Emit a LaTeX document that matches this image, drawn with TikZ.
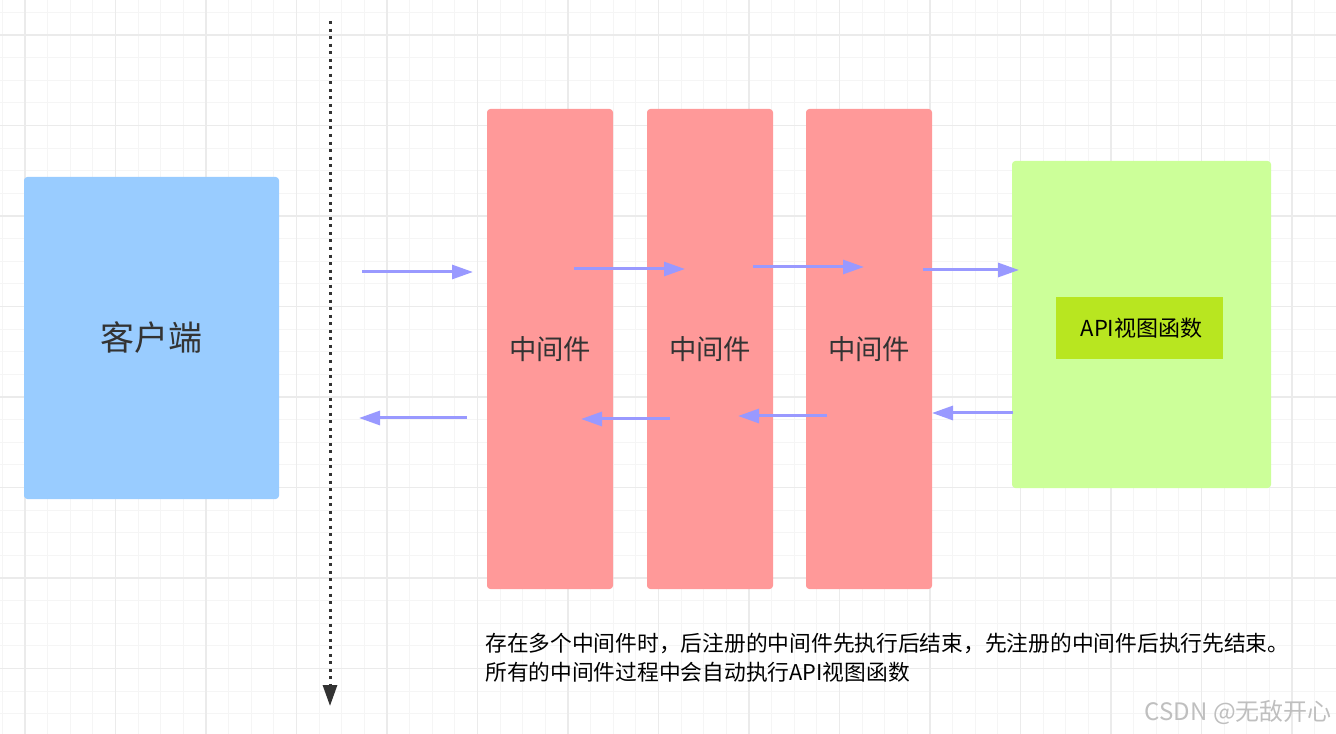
\documentclass[tikz,border=0pt]{standalone}
\usepackage{fontspec}
\setmainfont{Noto Sans CJK SC}
\usetikzlibrary{arrows.meta}

\definecolor{gridmin}{HTML}{F5F5F5}
\definecolor{gridmaj}{HTML}{EBEBEB}
\definecolor{clientblue}{HTML}{99CCFF}
\definecolor{mwred}{HTML}{FF9999}
\definecolor{viewgreen}{HTML}{CCFF99}
\definecolor{apigreen}{HTML}{B8E620}
\definecolor{flow}{HTML}{9999FF}
\definecolor{ink}{HTML}{333333}

\begin{document}
\begin{tikzpicture}[
  x=0.75pt, y=-0.75pt,
  gline/.style={gridmin, line width=0.75pt},
  gmaj/.style={gridmaj, line width=1pt},
  box/.style={rounded corners=2.5pt, inner sep=0pt},
  mware/.style={box, fill=mwred, minimum width=94.5pt, minimum height=360pt,
    text=ink, font=\fontsize{20.5pt}{24pt}\selectfont},
  flowarr/.style={flow, line width=2.25pt, -{Triangle[length=15.75pt, width=10.5pt]}},
]

\useasboundingbox (0,0) rectangle (1336,734);
\fill [white] (0,0) rectangle (1336,734);

\foreach \i in {0,...,59}
  \draw [gline] (2.4+22.625*\i,0) -- (2.4+22.625*\i,734);
\foreach \i in {0,...,32}
  \draw [gline] (0,12.4+22.625*\i) -- (1336,12.4+22.625*\i);
\foreach \k in {0,...,14}
  \draw [gmaj] (25+90.5*\k,0) -- (25+90.5*\k,734);
\foreach \k in {0,...,7}
  \draw [gmaj] (0,35+90.5*\k) -- (1336,35+90.5*\k);

\coordinate (axtop) at (330,21);
\coordinate (axbot) at (330,706);
\draw [ink, line width=2.25pt, dash pattern=on 2.25pt off 3.4pt,
  -{Triangle[length=15.75pt, width=10.5pt]}] (axtop) -- (axbot);

\node [box, fill=clientblue, minimum width=191.25pt, minimum height=241.5pt,
  text=ink, font=\fontsize{25.5pt}{30pt}\selectfont] (client) at (151.5,338) {客户端};

\node [mware] (mw1) at (550,349) {中间件};
\node [mware] (mw2) at (710,349) {中间件};
\node [mware] (mw3) at (869,349) {中间件};

\node [box, fill=viewgreen, minimum width=194.25pt, minimum height=245.25pt] (view) at (1141.5,324.5) {};
\node [fill=apigreen, minimum width=125.25pt, minimum height=46.5pt, inner sep=0pt,
  font=\fontsize{16.5pt}{20pt}\selectfont] (api) at (1139.5,328) {\hspace*{3pt}API视图函数};

\coordinate (f1a) at (362,272);
\coordinate (f1b) at (473,272);
\coordinate (f2a) at (574,269);
\coordinate (f2b) at (685,269);
\coordinate (f3a) at (753,267);
\coordinate (f3b) at (864,267);
\coordinate (f4a) at (923,270);
\coordinate (f4b) at (1019,270);
\coordinate (b1a) at (467,418);
\coordinate (b1b) at (359,418);
\coordinate (b2a) at (670,419);
\coordinate (b2b) at (581,419);
\coordinate (b3a) at (827,416);
\coordinate (b3b) at (738,416);
\coordinate (b4a) at (1013,413);
\coordinate (b4b) at (932,413);

\draw [flowarr] (f1a) -- (f1b);
\draw [flowarr] (f2a) -- (f2b);
\draw [flowarr] (f3a) -- (f3b);
\draw [flowarr] (f4a) -- (f4b);
\draw [flowarr] (b1a) -- (b1b);
\draw [flowarr] (b2a) -- (b2b);
\draw [flowarr] (b3a) -- (b3b);
\draw [flowarr] (b4a) -- (b4b);

\node [anchor=west, inner sep=0pt, align=left,
  font=\fontsize{16.3pt}{21.75pt}\selectfont] (note) at (485,657.5)
  {存在多个中间件时，后注册的中间件先执行后结束，先注册的中间件后执行先结束。\\所有的中间件过程中会自动执行API视图函数};

\node [anchor=east, inner sep=0pt, text=black!25,
  font=\fontsize{18pt}{20pt}\selectfont] (mark) at (1332,712) {CSDN @无敌开心};

\end{tikzpicture}
\end{document}
